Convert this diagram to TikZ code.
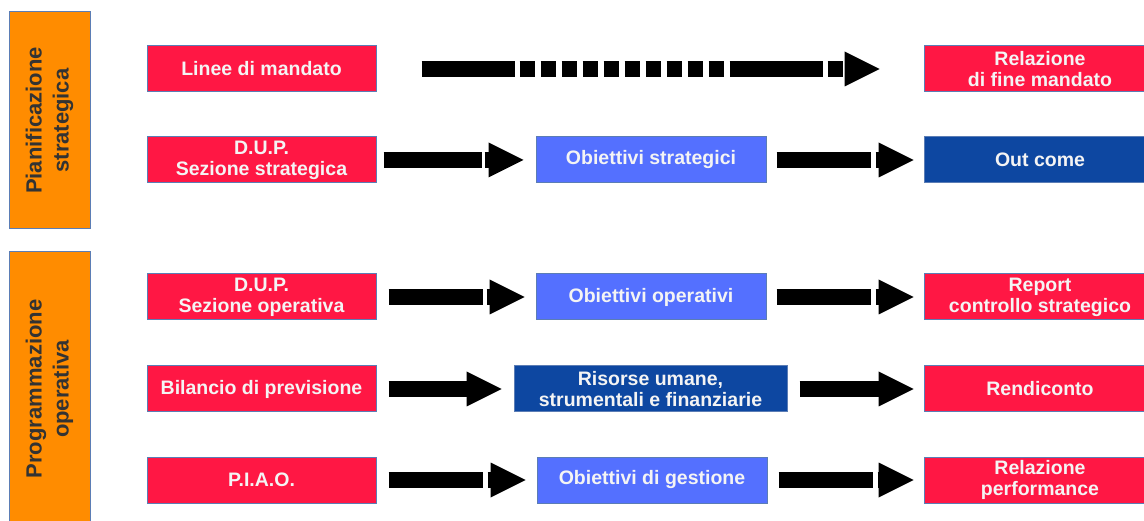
\documentclass[tikz,border=0pt]{standalone}
\usepackage{fontspec}
\setmainfont{Liberation Sans}
\usetikzlibrary{arrows.meta}
\definecolor{boxred}{HTML}{FF1744}
\definecolor{lblue}{HTML}{5470FF}
\definecolor{dblue}{HTML}{0D47A1}
\definecolor{orng}{HTML}{FF8C00}
\definecolor{edge}{HTML}{5B7DB5}
\definecolor{txt}{HTML}{F4F4F4}
\definecolor{vtxt}{HTML}{333333}
\begin{document}
\begin{tikzpicture}[x=1pt,y=-1pt,
  box/.style={draw=edge, line width=1pt, inner sep=0pt, minimum height=46pt,
    text=txt, font=\bfseries\fontsize{19.5}{21}\selectfont, align=center},
  redbox/.style={box, fill=boxred, minimum width=229pt},
  midbox/.style={box, fill=lblue, minimum width=230pt},
  rightbox/.style={box, fill=boxred, minimum width=232pt},
  phase/.style={draw=edge, line width=1pt, fill=orng, inner sep=0pt,
    minimum height=81pt, text=vtxt, font=\bfseries\fontsize{22}{27}\selectfont,
    align=center, rotate=90},
  blk/.style={black, line width=16pt, -{Triangle[length=35pt,width=35pt,line width=0pt]}},
]
\useasboundingbox (0,0) rectangle (1144,521);
\clip (0,0) rectangle (1144,521);
\fill[white] (0,0) rectangle (1144,521);

% phase labels
\node[phase, minimum width=217pt] (ps) at (49.5,120.5) {Pianificazione\\strategica};
\node[phase, minimum width=274pt] (po) at (49.5,389) {Programmazione\\operativa};

% left column
\node[redbox] (lm)   at (261.5,69)  {Linee di mandato};
\node[redbox] (dups) at (261.5,160) {D.U.P.\\Sezione strategica};
\node[redbox] (dupo) at (261.5,297) {D.U.P.\\Sezione operativa};
\node[redbox] (bil)  at (261.5,389) {Bilancio di previsione};
\node[redbox] (piao) at (261.5,480) {P.I.A.O.};

% middle column
\node[midbox] (obs) at (651,160) {Obiettivi strategici};
\node[midbox] (obo) at (651,297) {Obiettivi operativi};
\node[box, fill=dblue, minimum width=273pt] (ris) at (650.5,389) {Risorse umane,\\strumentali e finanziarie};
\node[midbox] (obg) at (652,480) {Obiettivi di gestione};

% right column
\node[rightbox] (rfm)   at (1040,69)  {Relazione\\di fine mandato};
\node[rightbox, fill=dblue] (out) at (1040,160) {Out come};
\node[rightbox] (rep)   at (1040,297) {Report\\controllo strategico};
\node[rightbox] (rend)  at (1040,389) {Rendiconto};
\node[rightbox] (rperf) at (1040,480) {Relazione\\performance};

% arrows
\draw[blk, shorten <=45pt, shorten >=44pt,
  dash pattern=on 93pt off 5pt on 15pt off 6pt on 15pt off 6pt on 15pt off 6pt on 15pt off 6pt on 15pt off 6pt on 15pt off 6pt on 15pt off 6pt on 15pt off 6pt on 15pt off 6pt on 15pt off 6pt]
  (lm.east) -- (rfm.west);

\draw[blk, shorten <=7pt, shorten >=12pt, dash pattern=on 98pt off 3pt on 30pt off 3pt] (dups.east) -- (obs.west);
\draw[blk, shorten <=10pt, shorten >=10pt, dash pattern=on 94pt off 5pt on 30pt off 3pt] (obs.east) -- (out.west);

\draw[blk, shorten <=12pt, shorten >=11pt, dash pattern=on 94pt off 4pt on 30pt off 3pt] (dupo.east) -- (obo.west);
\draw[blk, shorten <=10pt, shorten >=10pt, dash pattern=on 94pt off 5pt on 30pt off 3pt] (obo.east) -- (rep.west);

\draw[blk, shorten <=12pt, shorten >=12pt] (bil.east) -- (ris.west);
\draw[blk, shorten <=12pt, shorten >=10pt] (ris.east) -- (rend.west);

\draw[blk, shorten <=12pt, shorten >=11pt, dash pattern=on 94pt off 5pt on 30pt off 3pt] (piao.east) -- (obg.west);
\draw[blk, shorten <=11pt, shorten >=10pt, dash pattern=on 94pt off 5pt on 30pt off 3pt] (obg.east) -- (rperf.west);
\end{tikzpicture}
\end{document}
